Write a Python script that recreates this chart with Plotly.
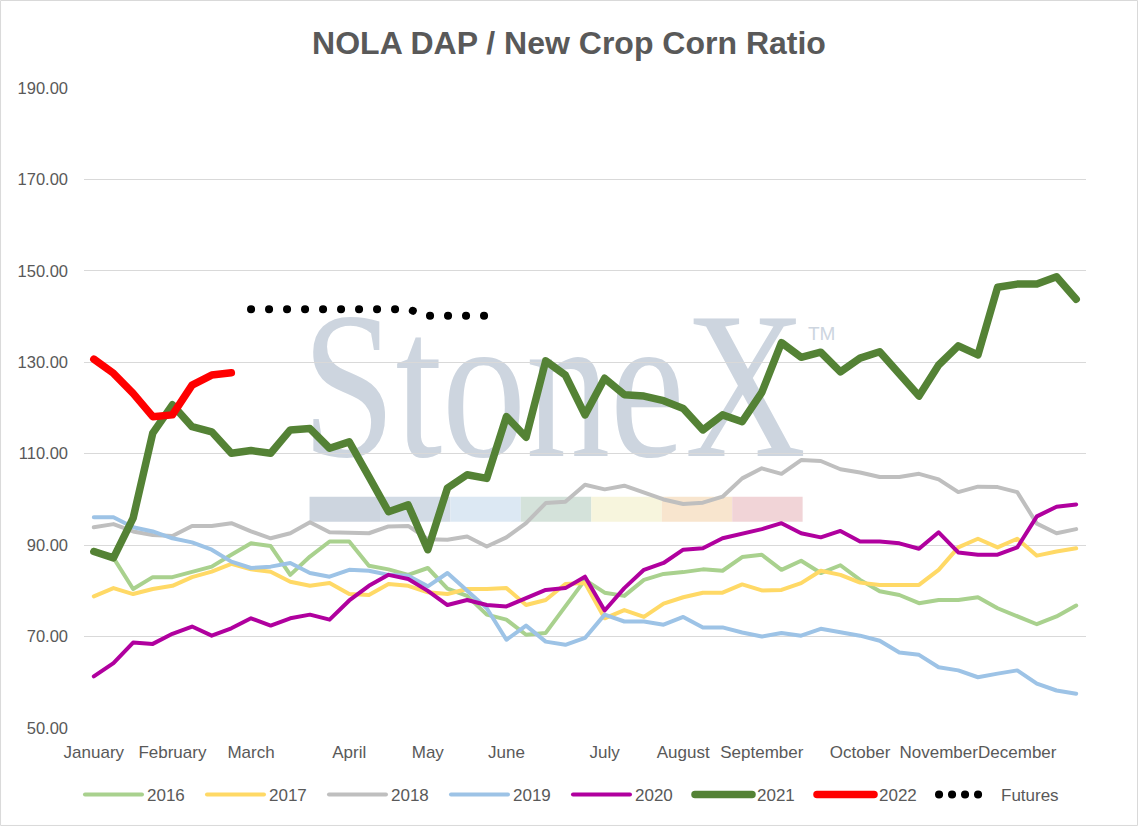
import plotly.graph_objects as go

# weekly categories (week index within the year)
WEEKS = list(range(51))
MONTH_TICKS = [0, 4, 8, 13, 17, 21, 26, 30, 34, 39, 43, 47]
MONTH_LABELS = ["January", "February", "March", "April", "May", "June", "July",
                "August", "September", "October", "November", "December"]

Y2016 = [89.0, 87.2, 80.4, 83.0, 83.0, 84.2, 85.3, 87.9, 90.4, 89.8, 83.5, 87.5, 90.8, 90.8, 85.5, 84.7, 83.5,
         85.0, 80.5, 78.9, 74.8, 73.7, 70.4, 70.8, 76.6, 82.4, 79.6, 78.9, 82.4, 83.7, 84.1, 84.7, 84.4, 87.4,
         87.9, 84.6, 86.6, 83.9, 85.6, 82.4, 79.9, 79.1, 77.3, 78.0, 78.0, 78.6, 76.2, 74.4, 72.7, 74.4, 76.8]
Y2017 = [78.8, 80.6, 79.3, 80.4, 81.1, 83.0, 84.2, 85.9, 84.7, 84.2, 82.0, 81.1, 81.7, 79.3, 79.1, 81.5, 81.1,
         79.7, 79.3, 80.4, 80.4, 80.6, 76.9, 78.0, 81.5, 81.7, 74.0, 75.8, 74.3, 77.2, 78.6, 79.6, 79.6, 81.4,
         80.1, 80.2, 81.7, 84.4, 83.5, 81.8, 81.3, 81.3, 81.3, 84.6, 89.5, 91.4, 89.5, 91.4, 87.7, 88.6, 89.3]
Y2018 = [93.9, 94.6, 93.0, 92.2, 92.0, 94.2, 94.2, 94.8, 93.0, 91.5, 92.6, 95.0, 92.8, 92.8, 92.6, 94.1, 94.2,
         91.3, 91.2, 91.9, 89.7, 91.7, 94.8, 99.2, 99.5, 103.2, 102.2, 103.0, 101.5, 100.0, 99.0, 99.3, 100.6,
         104.6, 106.8, 105.6, 108.6, 108.4, 106.6, 105.9, 104.9, 104.9, 105.6, 104.4, 101.6, 102.8, 102.7,
         101.6, 94.7, 92.6, 93.5]
Y2019 = [96.1, 96.1, 93.9, 93.0, 91.5, 90.6, 89.0, 86.4, 85.0, 85.3, 86.1, 83.9, 83.1, 84.6, 84.4, 83.5, 83.3,
         81.0, 83.9, 79.9, 76.2, 69.3, 72.4, 68.9, 68.2, 69.7, 74.8, 73.3, 73.3, 72.6, 74.3, 72.0, 72.0, 70.9,
         70.0, 70.8, 70.2, 71.7, 70.9, 70.2, 69.1, 66.5, 66.0, 63.3, 62.6, 61.1, 61.9, 62.6, 59.7, 58.2, 57.5]
Y2020 = [61.3, 64.2, 68.7, 68.4, 70.6, 72.2, 70.2, 71.8, 74.0, 72.4, 74.0, 74.8, 73.7, 77.9, 81.1, 83.5, 82.6,
         80.0, 76.9, 78.0, 76.9, 76.6, 78.4, 80.2, 80.6, 83.1, 75.7, 80.6, 84.6, 86.1, 89.0, 89.3, 91.5, 92.4,
         93.5, 94.8, 92.6, 91.7, 93.1, 90.8, 90.8, 90.4, 89.2, 92.8, 88.4, 87.9, 87.9, 89.5, 96.3, 98.4, 98.9]
Y2021 = [88.6, 87.2, 95.9, 114.5, 120.7, 115.9, 114.8, 110.1, 110.7, 110.1, 115.2, 115.5, 111.2, 112.6, 105.0,
         97.3, 98.8, 89.0, 102.5, 105.4, 104.6, 118.1, 113.6, 130.3, 127.2, 118.5, 126.5, 122.9, 122.6, 121.6,
         119.9, 115.2, 118.5, 117.0, 123.4, 134.3, 131.1, 132.2, 127.9, 130.9, 132.3, 127.6, 122.6, 129.4,
         133.6, 131.6, 146.4, 147.1, 147.1, 148.7, 143.8]
Y2022 = [130.7, 127.6, 123.2, 118.1, 118.5, 125.0, 127.2, 127.7]
FUTURES_WEEKS = list(range(8, 21))
FUTURES = [141.6, 141.6, 141.6, 141.6, 141.6, 141.6, 141.6, 141.6, 141.6, 140.2, 140.2, 140.2, 140.2]

SERIES = [
    ("2016", Y2016, "#a9d18e", 4),
    ("2017", Y2017, "#ffd966", 4),
    ("2018", Y2018, "#bfbfbf", 4),
    ("2019", Y2019, "#9dc3e6", 4),
    ("2020", Y2020, "#b0009e", 4),
    ("2021", Y2021, "#548235", 7.5),
    ("2022", Y2022, "#ff0000", 7.5),
]

GREY = "#595959"
WATERMARK = "#cdd5df"
BAR_COLORS = ["#cdd5df", "#d2dbe5", "#dce8f3", "#d4e2da", "#f7f5dd", "#f8e5ce", "#f1d4d7"]

fig = go.Figure()
for name, vals, color, width in SERIES:
    fig.add_trace(go.Scatter(x=WEEKS[:len(vals)], y=vals, name=name, mode="lines",
                             line=dict(color=color, width=width)))
fig.add_trace(go.Scatter(x=FUTURES_WEEKS, y=FUTURES, name="Futures", mode="lines",
                         line=dict(color="black", width=8, dash="8px,10px")))

# StoneX watermark behind the lines (moved under the traces in post script)
fig.add_annotation(text="StoneX", xref="paper", yref="paper", x=0.469, y=0.536,
                   xanchor="center", yanchor="middle", showarrow=False,
                   font=dict(family="Liberation Serif, Times New Roman, serif", size=210, color=WATERMARK))
fig.add_annotation(text="TM", xref="paper", yref="paper", x=0.736, y=0.617,
                   xanchor="center", yanchor="middle", showarrow=False,
                   font=dict(size=19, color=WATERMARK))
seg_w = 0.0703
for k, c in enumerate(BAR_COLORS):
    fig.add_shape(type="rect", xref="paper", yref="paper", layer="below",
                  x0=0.2251 + k * seg_w, x1=0.2251 + (k + 1) * seg_w, y0=0.3223, y1=0.3614,
                  fillcolor=c, line=dict(width=0))

# chart frame
fig.add_shape(type="rect", xref="paper", yref="paper", x0=-0.0833, x1=1.0514, y0=-0.1523, y1=1.1367,
              line=dict(color="#d9d9d9", width=1), fillcolor="rgba(0,0,0,0)")

fig.update_layout(
    width=1138, height=826,
    margin=dict(l=84, r=52, t=88, b=98),
    paper_bgcolor="white", plot_bgcolor="white",
    font=dict(family="Liberation Sans, Arial, sans-serif", size=16.5, color=GREY),
    title=dict(text="NOLA DAP / New Crop Corn Ratio", x=0.5, xref="container", xanchor="center",
               y=0.948, yref="container", yanchor="middle",
               font=dict(size=32, color=GREY, weight="bold")),
    xaxis=dict(range=[-0.5, 50.5], tickmode="array", tickvals=MONTH_TICKS, ticktext=MONTH_LABELS,
               tickangle=0, showgrid=False, zeroline=False, showline=False, ticks="",
               tickfont=dict(size=17), ticklabelstandoff=12),
    yaxis=dict(range=[50, 190], tick0=50, dtick=20, tickformat=".2f", gridcolor="#d9d9d9", gridwidth=1,
               zeroline=False, showline=False, ticks="", ticklabelstandoff=15),
    legend=dict(orientation="h", x=-0.004, xanchor="left", y=-0.1047, yanchor="middle",
                itemwidth=57, entrywidth=50, font=dict(size=17, color=GREY)),
    showlegend=True,
)

POST_JS = """
document.body.style.margin = '0';
var gd = document.getElementById('{plot_id}');
var below = gd.querySelector('.main-svg .layer-below');
gd.querySelectorAll('.infolayer g.annotation').forEach(function (g) {
    var t = g.querySelector('text');
    if (!t) return;
    var s = t.textContent;
    if (s === 'StoneX' || s === 'TM') {
        if (s === 'StoneX') {
            t.style.transformBox = 'fill-box';
            t.style.transformOrigin = 'center';
            t.style.transform = 'scaleX(0.8)';
        }
        if (below) below.appendChild(g);
    }
});
gd.querySelectorAll('.legend [clip-path]').forEach(function (e) { e.removeAttribute('clip-path'); });
gd.querySelectorAll('path.js-line').forEach(function (p) {
    p.style.strokeLinejoin = 'round';
    p.style.strokeLinecap = 'round';
    var da = p.style.strokeDasharray;
    if (da && da.indexOf('8px') === 0) {
        var inLegend = p.closest('.legend') !== null;
        p.style.strokeDasharray = inLegend ? '0.1px,12.9px,0.1px,12.9px,0.1px,12.9px,0.1px,200px' : '0.1px,17.9px';
    }
});
"""

fig.write_html("out.html", post_script=POST_JS, config={"displayModeBar": False})
